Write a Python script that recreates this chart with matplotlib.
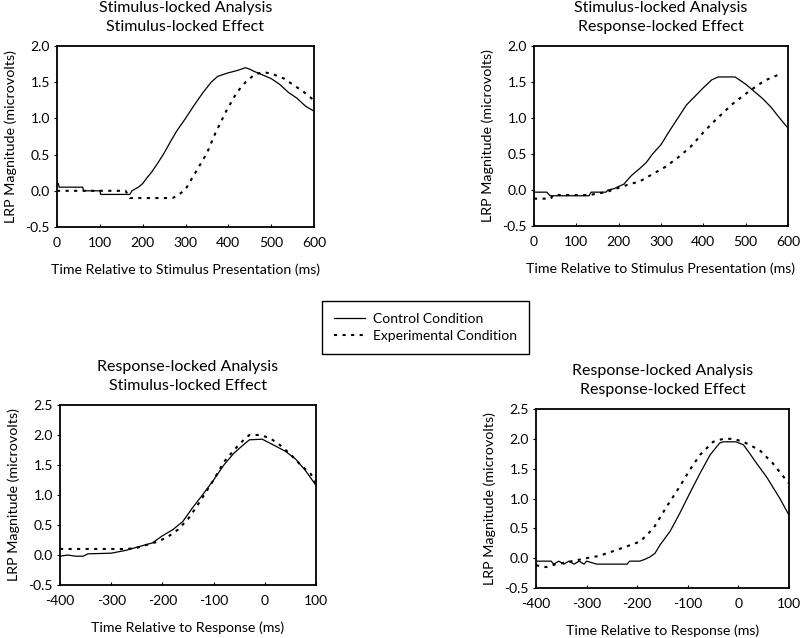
import matplotlib
matplotlib.use("Agg")
import matplotlib.pyplot as plt
from matplotlib.lines import Line2D

plt.rcParams['font.family'] = ['Lato', 'DejaVu Sans']
plt.rcParams['axes.unicode_minus'] = False

# ---- Data ----
# Panel 1: Stimulus-locked Analysis / Stimulus-locked Effect
p1_ctrl_t = [0, 3, 5, 60, 62, 100, 102, 170, 175, 190, 200, 210, 220, 235, 250, 265, 280, 300, 320, 340, 360, 375, 400, 420, 440, 450, 460, 480, 500, 520, 540, 560, 580, 600]
p1_ctrl_v = [0.1, 0.1, 0.05, 0.05, 0.0, 0.0, -0.05, -0.05, 0.0, 0.05, 0.1, 0.18, 0.25, 0.38, 0.52, 0.68, 0.83, 1.0, 1.18, 1.35, 1.5, 1.58, 1.63, 1.66, 1.7, 1.68, 1.65, 1.6, 1.55, 1.47, 1.36, 1.28, 1.17, 1.1]
p1_exp_t = [0, 160, 170, 270, 285, 300, 325, 350, 370, 395, 420, 440, 460, 480, 500, 530, 550, 575, 600]
p1_exp_v = [0.0, 0.0, -0.1, -0.1, -0.05, 0.02, 0.27, 0.52, 0.8, 1.1, 1.36, 1.5, 1.6, 1.64, 1.62, 1.55, 1.47, 1.37, 1.25]

# Panel 2: Stimulus-locked Analysis / Response-locked Effect
p2_ctrl_t = [0, 30, 38, 130, 135, 170, 175, 190, 200, 212, 230, 250, 265, 280, 300, 320, 340, 360, 380, 400, 420, 435, 475, 500, 520, 540, 560, 580, 600]
p2_ctrl_v = [-0.03, -0.03, -0.08, -0.08, -0.03, -0.03, 0.0, 0.02, 0.05, 0.08, 0.2, 0.3, 0.38, 0.5, 0.63, 0.82, 1.0, 1.18, 1.3, 1.42, 1.53, 1.57, 1.57, 1.47, 1.37, 1.27, 1.15, 1.0, 0.86]
p2_exp_t = [0, 40, 45, 130, 170, 200, 220, 250, 280, 310, 340, 370, 400, 430, 470, 510, 545, 585]
p2_exp_v = [-0.12, -0.12, -0.07, -0.07, -0.03, 0.03, 0.07, 0.12, 0.22, 0.32, 0.45, 0.6, 0.8, 0.98, 1.2, 1.38, 1.52, 1.62]

# Panel 3: Response-locked Analysis / Stimulus-locked Effect
p3_ctrl_t = [-400, -385, -370, -355, -345, -300, -270, -250, -220, -200, -180, -160, -140, -120, -100, -80, -60, -40, -30, -5, 20, 40, 60, 80, 100]
p3_ctrl_v = [-0.02, 0.0, -0.02, -0.02, 0.02, 0.03, 0.08, 0.13, 0.2, 0.32, 0.42, 0.56, 0.8, 1.02, 1.25, 1.5, 1.7, 1.85, 1.92, 1.93, 1.82, 1.73, 1.6, 1.4, 1.16]
p3_exp_t = [-400, -290, -270, -250, -230, -210, -190, -170, -150, -140, -120, -100, -80, -60, -40, -30, -10, 10, 30, 50, 70, 90, 100]
p3_exp_v = [0.1, 0.1, 0.1, 0.12, 0.17, 0.22, 0.3, 0.42, 0.6, 0.72, 0.98, 1.25, 1.55, 1.75, 1.93, 2.0, 2.0, 1.95, 1.83, 1.68, 1.5, 1.35, 1.17]

# Panel 4: Response-locked Analysis / Response-locked Effect
p4_ctrl_t = [-400, -370, -365, -355, -345, -335, -325, -315, -305, -300, -280, -220, -215, -195, -185, -175, -165, -155, -135, -116, -96, -76, -56, -37, -30, -5, 10, 22, 35, 55, 82, 100]
p4_ctrl_v = [-0.05, -0.05, -0.1, -0.05, -0.1, -0.05, -0.1, -0.05, -0.1, -0.05, -0.1, -0.1, -0.05, -0.05, -0.02, 0.02, 0.08, 0.22, 0.45, 0.75, 1.09, 1.42, 1.73, 1.93, 1.95, 1.95, 1.9, 1.76, 1.6, 1.37, 1.0, 0.72]
p4_exp_t = [-400, -380, -360, -340, -300, -280, -260, -240, -220, -194, -168, -142, -116, -96, -76, -50, -30, -10, 10, 42, 68, 100]
p4_exp_v = [-0.12, -0.15, -0.1, -0.07, 0.0, 0.03, 0.08, 0.14, 0.2, 0.28, 0.5, 0.86, 1.2, 1.48, 1.73, 1.95, 2.0, 2.0, 1.95, 1.81, 1.59, 1.25]

titles = ["Stimulus-locked Analysis\nStimulus-locked Effect",
          "Stimulus-locked Analysis\nResponse-locked Effect",
          "Response-locked Analysis\nStimulus-locked Effect",
          "Response-locked Analysis\nResponse-locked Effect"]
xlabels = ["Time Relative to Stimulus Presentation (ms)",
           "Time Relative to Stimulus Presentation (ms)",
           "Time Relative to Response (ms)",
           "Time Relative to Response (ms)"]
ylabel = "LRP Magnitude (microvolts)"
stim_xticks = [0, 100, 200, 300, 400, 500, 600]
resp_xticks = [-400, -300, -200, -100, 0, 100]
top_yticks = [-0.5, 0.0, 0.5, 1.0, 1.5, 2.0]
bot_yticks = [-0.5, 0.0, 0.5, 1.0, 1.5, 2.0, 2.5]
legend_labels = ["Control Condition", "Experimental Condition"]

W, H = 800, 638
fig = plt.figure(figsize=(8, 6.38), dpi=100)

def rect(l, t, r, b):
    return [l / W, 1 - b / H, (r - l) / W, (b - t) / H]

positions = [rect(57, 46, 314, 227), rect(534, 46, 788, 226),
             rect(60, 405, 316, 585), rect(536, 409, 789, 588)]

panels = [
    (p1_ctrl_t, p1_ctrl_v, p1_exp_t, p1_exp_v, stim_xticks, top_yticks, (0, 600), (-0.5, 2.0)),
    (p2_ctrl_t, p2_ctrl_v, p2_exp_t, p2_exp_v, stim_xticks, top_yticks, (0, 600), (-0.5, 2.0)),
    (p3_ctrl_t, p3_ctrl_v, p3_exp_t, p3_exp_v, resp_xticks, bot_yticks, (-400, 100), (-0.5, 2.5)),
    (p4_ctrl_t, p4_ctrl_v, p4_exp_t, p4_exp_v, resp_xticks, bot_yticks, (-400, 100), (-0.5, 2.5)),
]

dotted = (0, (1.5, 2.6))
for i, (pos, (ct, cv, et, ev, xt, yt, xl, yl)) in enumerate(zip(positions, panels)):
    ax = fig.add_axes(pos)
    ax.plot(ct, cv, color='black', lw=0.9)
    ax.plot(et, ev, color='black', lw=1.5, linestyle=dotted)
    ax.set_xlim(*xl)
    ax.set_ylim(*yl)
    ax.set_xticks(xt)
    ax.set_yticks(yt)
    ax.set_yticklabels([f"{v:.1f}" for v in yt])
    ax.tick_params(axis='y', direction='out', length=2.5, width=0.8, labelsize=10, pad=2.5)
    ax.tick_params(axis='x', direction='in', length=2.5, width=0.8, labelsize=10, pad=7.5)
    for s in ax.spines.values():
        s.set_linewidth(1.3)
        s.set_color('black')
    ax.set_title(titles[i], fontsize=11.5, pad=11, linespacing=1.4)
    ax.set_xlabel(xlabels[i], fontsize=10.2, labelpad=9.8)
    ax.set_ylabel(ylabel, fontsize=10.3, labelpad=6)

handles = [Line2D([], [], color='black', lw=0.9),
           Line2D([], [], color='black', lw=1.5, linestyle=dotted)]
leg = fig.legend(handles, legend_labels, loc='center',
                 bbox_to_anchor=(425.5 / W, 1 - 327.5 / H),
                 fontsize=10, frameon=True, fancybox=False,
                 edgecolor='black', framealpha=1, handlelength=2.2,
                 handletextpad=0.55, labelspacing=0.35, borderpad=0.9)
leg.get_frame().set_linewidth(1.0)

fig.savefig("out.png", dpi=100)
